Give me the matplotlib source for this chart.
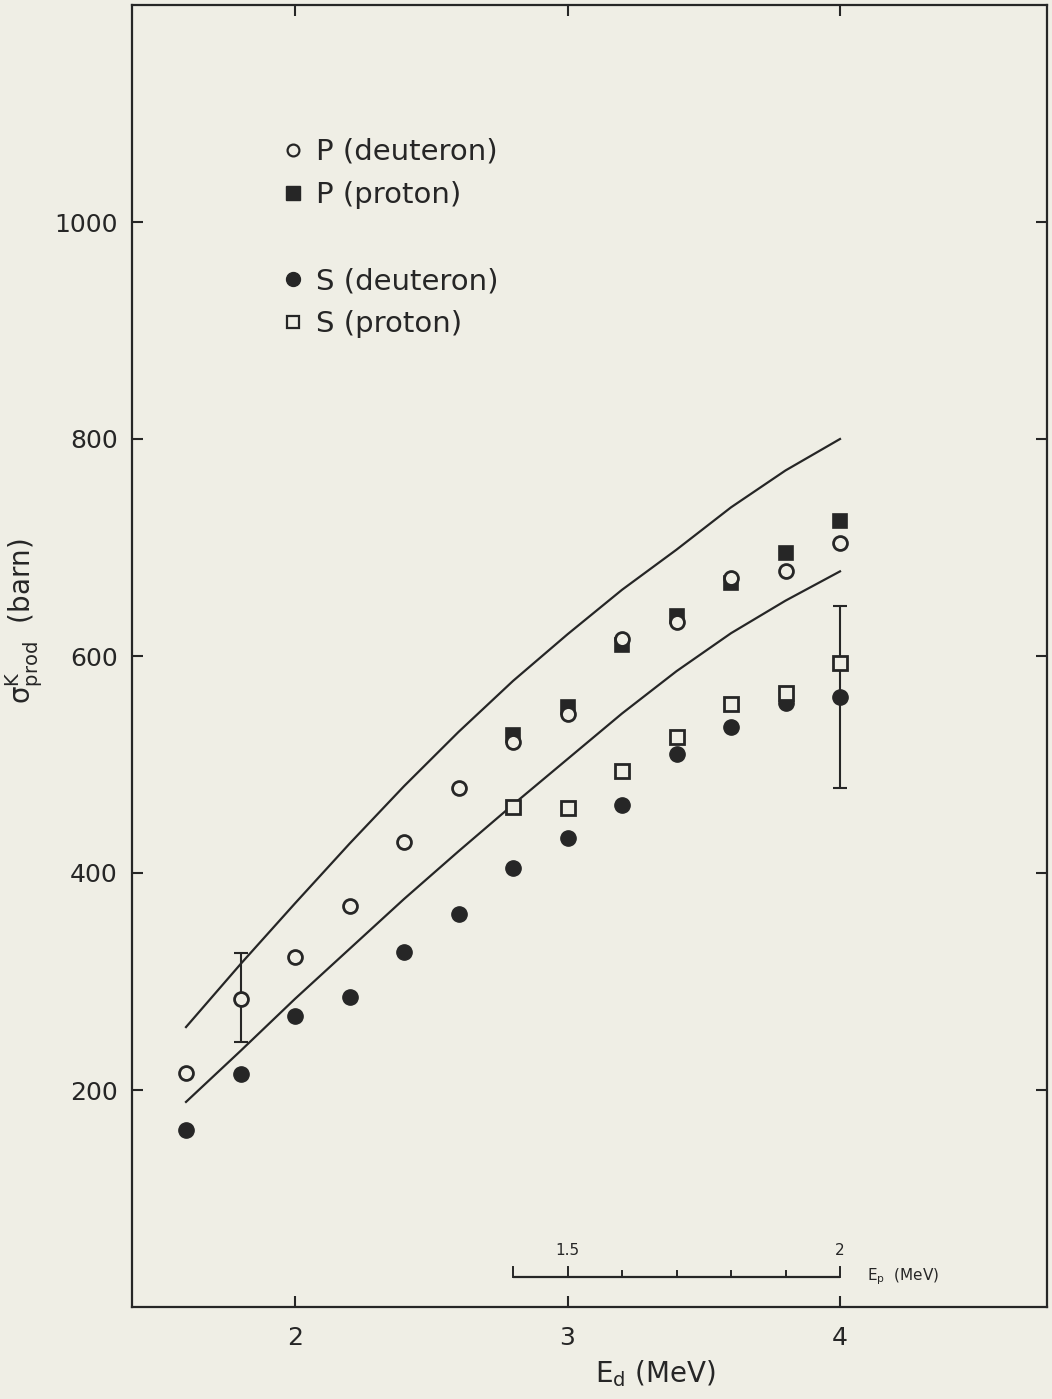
import matplotlib
matplotlib.use("Agg")
import matplotlib.pyplot as plt
from matplotlib.lines import Line2D

# ---------------- data ----------------
ed = [1.6, 1.8, 2.0, 2.2, 2.4, 2.6, 2.8, 3.0, 3.2, 3.4, 3.6, 3.8, 4.0]
p_deuteron = [216, 284, 323, 370, 429, 478, 521, 547, 616, 631, 672, 678, 704]
s_deuteron = [163, 215, 268, 286, 327, 362, 405, 432, 463, 510, 535, 557, 562]

ed_proton = [2.8, 3.0, 3.2, 3.4, 3.6, 3.8, 4.0]
p_proton = [527, 553, 610, 637, 667, 695, 724]
s_proton = [461, 460, 494, 525, 556, 566, 594]

# error bars (x, y, err)
err_p_x, err_p_y, err_p_e = [1.8], [285], [41]
err_s_x, err_s_y, err_s_e = [4.0], [562], [84]

# theoretical curves
curve_x = [1.6, 1.8, 2.0, 2.2, 2.4, 2.6, 2.8, 3.0, 3.2, 3.4, 3.6, 3.8, 4.0]
curve_upper = [258, 316, 372, 427, 480, 530, 577, 620, 661, 698, 737, 771, 800]
curve_lower = [189, 236, 284, 330, 376, 420, 463, 505, 547, 586, 621, 651, 678]

# secondary proton-energy scale (Ed = 2 Ep)
ep_ticks = [1.4, 1.5, 1.6, 1.7, 1.8, 1.9, 2.0]
ep_labels = {1.5: "1.5", 2.0: "2"}
ep_axis_level = 28

xticks = [2, 3, 4]
yticks = [200, 400, 600, 800, 1000]

# ---------------- style ----------------
ink = "#262626"
paper = "#efeee5"
plt.rcParams['font.family'] = ['DejaVu Sans']

fig = plt.figure(figsize=(10.52, 13.99), dpi=100, facecolor=paper)
ax = fig.add_axes([131.5 / 1052, 1 - 1307 / 1399, 915.6 / 1052, 1302 / 1399])
ax.set_facecolor(paper)
ax.set_xlim(1.4, 4.76)
ax.set_ylim(0, 1200)

for s in ax.spines.values():
    s.set_color(ink)
    s.set_linewidth(1.6)

ax.set_xticks(xticks)
ax.set_xticklabels([str(t) for t in xticks])
ax.set_yticks(yticks)
ax.set_yticklabels([str(t) for t in yticks])
ax.tick_params(direction='in', length=8, width=1.5, colors=ink,
               top=True, right=True, labelsize=18)
ax.tick_params(axis='x', pad=14)
ax.tick_params(axis='y', pad=10)

# curves
ax.plot(curve_x, curve_upper, color=ink, lw=1.6, zorder=2)
ax.plot(curve_x, curve_lower, color=ink, lw=1.6, zorder=2)

# error bars
ax.errorbar(err_p_x, err_p_y, yerr=err_p_e, fmt='none', ecolor=ink,
            elinewidth=1.5, capsize=5, capthick=1.5, zorder=3)
ax.errorbar(err_s_x, err_s_y, yerr=err_s_e, fmt='none', ecolor=ink,
            elinewidth=1.5, capsize=5, capthick=1.5, zorder=3)

# data points
ax.plot(ed_proton, p_proton, ls='none', marker='s', ms=10, mfc=ink, mec=ink,
        mew=1.2, zorder=4)
ax.plot(ed, p_deuteron, ls='none', marker='o', ms=10, mfc=paper, mec=ink,
        mew=2.0, zorder=5)
ax.plot(ed, s_deuteron, ls='none', marker='o', ms=11, mfc=ink, mec=ink,
        mew=1.0, zorder=4)
ax.plot(ed_proton, s_proton, ls='none', marker='s', ms=10, mfc=paper, mec=ink,
        mew=2.0, zorder=5)

# secondary Ep scale
ep_x = [2 * e for e in ep_ticks]
ax.plot([ep_x[0], ep_x[-1]], [ep_axis_level, ep_axis_level], color=ink, lw=1.6,
        solid_capstyle='butt', zorder=2)
for e, xv in zip(ep_ticks, ep_x):
    big = e in ep_labels or e == ep_ticks[0]
    ax.plot([xv, xv], [ep_axis_level, ep_axis_level + (9 if big else 5)],
            color=ink, lw=1.4, zorder=2)
    if e in ep_labels:
        ax.text(xv, ep_axis_level + 17, ep_labels[e], ha='center', va='bottom',
                fontsize=11, color=ink)
ax.text(ep_x[-1] + 0.1, ep_axis_level, r'$\mathregular{E_p}$  (MeV)',
        ha='left', va='center', fontsize=11, color=ink)

# axis labels
ax.set_xlabel(r'$\mathregular{E_d}$ (MeV)', fontsize=20, color=ink)
ax.xaxis.set_label_coords(0.572, -0.039)
ax.set_ylabel(r'σ$^{\mathregular{K}}_{\mathregular{prod}}$  (barn)',
              fontsize=20, color=ink)
ax.yaxis.set_label_coords(-0.095, 0.527)

# legend
handles = [
    Line2D([], [], ls='none', marker='o', ms=8.5, mfc=paper, mec=ink, mew=1.6),
    Line2D([], [], ls='none', marker='s', ms=10, mfc=ink, mec=ink),
    Line2D([], [], ls='none'),
    Line2D([], [], ls='none', marker='o', ms=10, mfc=ink, mec=ink),
    Line2D([], [], ls='none', marker='s', ms=8.5, mfc=paper, mec=ink, mew=1.6),
]
labels = ["P (deuteron)", "P (proton)", " ", "S (deuteron)", "S (proton)"]
leg = ax.legend(handles, labels, loc='upper left', bbox_to_anchor=(0.1637, 0.898),
                frameon=False, fontsize=21, handlelength=0.8, handletextpad=0.4,
                labelspacing=0.52, borderpad=0, borderaxespad=0)
for t in leg.get_texts():
    t.set_color(ink)

fig.savefig("out.png", dpi=100, facecolor=paper)
